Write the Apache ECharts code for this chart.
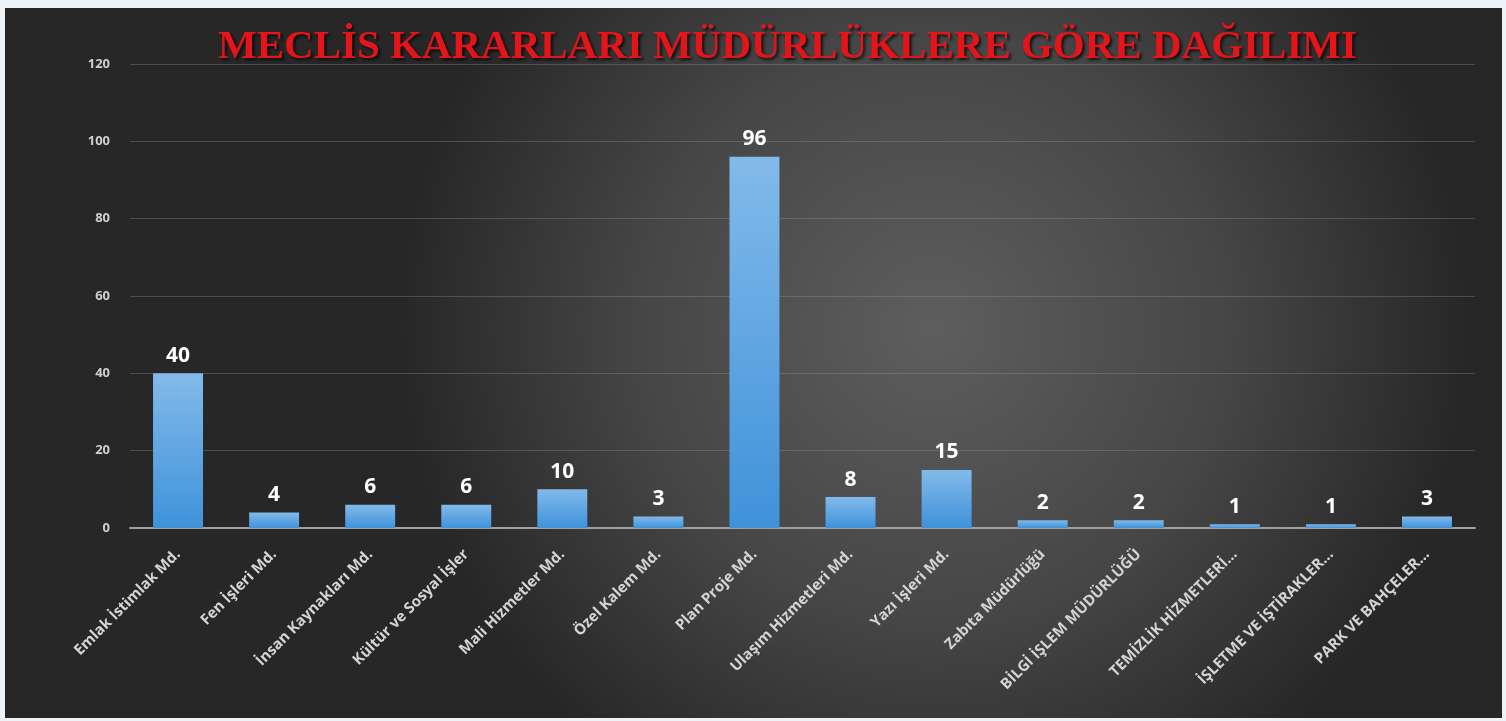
<!DOCTYPE html>
<html>
<head>
<meta charset="utf-8">
<script src="https://cdn.jsdelivr.net/npm/echarts@6/dist/echarts.min.js"></script>
<style>
  html, body { margin: 0; padding: 0; background: #eef3f8; }
  #graph { position: absolute; left: 5px; top: 8px; width: 1497px; height: 710px; }
</style>
</head>
<body>
<div id="graph"></div>
<script>
var categories = ['Emlak İstimlak Md.', 'Fen İşleri Md.', 'İnsan Kaynakları Md.', 'Kültür ve Sosyal İşler',
    'Mali Hizmetler Md.', 'Özel Kalem Md.', 'Plan Proje Md.', 'Ulaşım Hizmetleri Md.', 'Yazı İşleri Md.',
    'Zabıta Müdürlüğü', 'BİLGİ İŞLEM MÜDÜRLÜĞÜ', 'TEMİZLİK HİZMETLERİ...', 'İŞLETME VE İŞTİRAKLER...',
    'PARK VE BAHÇELER...'];
var values = [40, 4, 6, 6, 10, 3, 96, 8, 15, 2, 2, 1, 1, 3];
var yTicks = [0, 20, 40, 60, 80, 100, 120];

var dom = document.getElementById("graph");
var myChart = echarts.init(dom);
var option = {
    backgroundColor: {
        type: 'radial', x: 0.62, y: 0.45, r: 0.75,
        colorStops: [
            { offset: 0, color: '#5e5e5e' },
            { offset: 0.55, color: '#464646' },
            { offset: 1, color: '#272727' }
        ]
    },
    title: {
        text: 'MECLİS KARARLARI MÜDÜRLÜKLERE GÖRE DAĞILIMI',
        left: 208,
        top: 14,
        textStyle: {
            fontFamily: 'Liberation Serif',
            fontWeight: 'bold',
            fontSize: 41,
            color: '#e3151b',
            textShadowColor: 'rgba(0,0,0,0.8)',
            textShadowBlur: 3,
            textShadowOffsetX: 2,
            textShadowOffsetY: 2
        }
    },
    grid: { left: 125, right: 27, top: 56, bottom: 190 },
    xAxis: {
        type: 'category',
        data: categories,
        axisTick: { show: false },
        axisLine: { lineStyle: { color: '#a0a0a0', width: 2 } },
        axisLabel: {
            rotate: 45,
            interval: 0,
            margin: 24,
            color: '#d4d4d4',
            fontFamily: 'Open Sans',
            fontWeight: 'bold',
            fontSize: 15
        }
    },
    yAxis: {
        type: 'value',
        min: yTicks[0],
        max: yTicks[yTicks.length - 1],
        interval: 20,
        axisLine: { show: false },
        axisTick: { show: false },
        splitLine: { lineStyle: { color: 'rgba(150,150,150,0.35)', width: 1 } },
        axisLabel: {
            color: '#cfcfcf',
            fontFamily: 'Open Sans',
            fontWeight: 'bold',
            fontSize: 13,
            margin: 20
        }
    },
    series: [{
        type: 'bar',
        data: values,
        barWidth: '52%',
        itemStyle: {
            color: {
                type: 'linear', x: 0, y: 0, x2: 0, y2: 1,
                colorStops: [
                    { offset: 0, color: '#82baea' },
                    { offset: 1, color: '#3f92da' }
                ]
            }
        },
        label: {
            show: true,
            position: 'top',
            distance: 7,
            color: '#ffffff',
            fontFamily: 'Open Sans',
            fontWeight: 'bold',
            fontSize: 21
        }
    }]
};
myChart.setOption(option, true);
</script>
</body>
</html>
